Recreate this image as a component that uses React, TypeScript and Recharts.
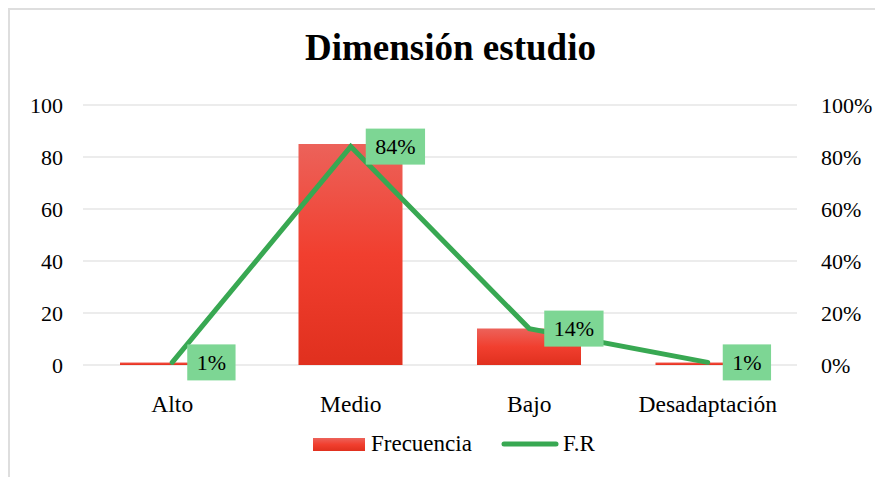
import React from 'react';
import { ComposedChart, Bar, Line, XAxis, YAxis, CartesianGrid, Legend, LabelList } from 'recharts';

const categories = ['Alto', 'Medio', 'Bajo', 'Desadaptación'];
const frecuencia = [1, 85, 14, 1];
const fr = [0.01, 0.84, 0.14, 0.01];
const leftTicks = [0, 20, 40, 60, 80, 100];
const rightTicks = [0, 0.2, 0.4, 0.6, 0.8, 1];

const data = categories.map((c, i) => ({ name: c, frecuencia: frecuencia[i], fr: fr[i] }));

const FONT = '"Liberation Serif", "Times New Roman", serif';
const GREEN = '#38a852';
const LABEL_BG = '#7dd694';

const pct = (v: number) => `${Math.round(v * 100)}%`;

const FrLabel = (props: any) => {
  const { x, y, value } = props;
  const text = pct(value);
  const digits = text.length - 1;
  const w = digits * 11 + 18.3 + 19;
  const h = 36;
  const bx = x + 15;
  const by = y - h / 2;
  return (
    <g>
      <rect x={bx} y={by} width={w} height={h} fill={LABEL_BG} />
      <text
        x={bx + w / 2}
        y={y}
        dy={7.5}
        textAnchor="middle"
        fontFamily={FONT}
        fontSize={22}
        fill="#000"
      >
        {text}
      </text>
    </g>
  );
};

const LegendContent = () => (
  <div
    style={{
      display: 'flex',
      alignItems: 'center',
      fontFamily: FONT,
      fontSize: 23,
      color: '#000',
      lineHeight: '26px',
      whiteSpace: 'nowrap',
    }}
  >
    <svg width={52} height={13} style={{ display: 'block' }}>
      <defs>
        <linearGradient id="legGrad" x1="0" y1="0" x2="0" y2="1">
          <stop offset="0%" stopColor="#ec625a" />
          <stop offset="50%" stopColor="#f13f2f" />
          <stop offset="100%" stopColor="#e0301e" />
        </linearGradient>
      </defs>
      <rect width={52} height={13} fill="url(#legGrad)" />
    </svg>
    <span style={{ marginLeft: 6 }}>Frecuencia</span>
    <svg width={58} height={8} style={{ display: 'block', marginLeft: 29 }}>
      <line x1={3} y1={4} x2={55} y2={4} stroke={GREEN} strokeWidth={5} strokeLinecap="round" />
    </svg>
    <span style={{ marginLeft: 4 }}>F.R</span>
  </div>
);

export default function App() {
  return (
    <div
      style={{
        position: 'relative',
        width: 875,
        height: 469,
        borderLeft: '2px solid #dedede',
        borderTop: '2px solid #dedede',
        boxSizing: 'border-box',
        background: '#fff',
      }}
    >
      <div
        style={{
          position: 'absolute',
          left: -1,
          top: 19,
          width: 883,
          textAlign: 'center',
          fontFamily: FONT,
          fontWeight: 'bold',
          fontSize: 37,
          lineHeight: '37px',
          color: '#000',
          zIndex: 2,
        }}
      >
        Dimensión estudio
      </div>
      <div style={{ position: 'absolute', left: -1, top: -1 }}>
        <ComposedChart
          width={873}
          height={467}
          data={data}
          margin={{ top: 96, right: 15, bottom: 71, left: 14 }}
        >
          <defs>
            <linearGradient id="barGrad" x1="0" y1="0" x2="0" y2="1">
              <stop offset="0%" stopColor="#ec625a" />
              <stop offset="50%" stopColor="#f13f2f" />
              <stop offset="100%" stopColor="#e0301e" />
            </linearGradient>
          </defs>
          <CartesianGrid yAxisId="left" vertical={false} stroke="#d9d9d9" strokeWidth={1.2} />
          <XAxis
            dataKey="name"
            axisLine={false}
            tickLine={false}
            tickSize={0}
            tickMargin={30}
            height={40}
            interval={0}
            tick={{ fontFamily: FONT, fontSize: 23.5, fill: '#000' }}
          />
          <YAxis
            yAxisId="left"
            orientation="left"
            domain={[0, 100]}
            ticks={leftTicks}
            axisLine={false}
            tickLine={false}
            tickSize={0}
            tickMargin={20}
            width={60}
            tick={{ fontFamily: FONT, fontSize: 22, fill: '#000' }}
          />
          <YAxis
            yAxisId="right"
            orientation="right"
            domain={[0, 1]}
            ticks={rightTicks}
            tickFormatter={pct}
            axisLine={false}
            tickLine={false}
            tickSize={0}
            tickMargin={24}
            width={70}
            tick={{ fontFamily: FONT, fontSize: 22, fill: '#000', textAnchor: 'start' }}
          />
          <Legend
            layout="horizontal"
            verticalAlign="middle"
            align="center"
            content={<LegendContent />}
            wrapperStyle={{ left: 304, top: 422, width: 420 }}
          />
          <Bar
            yAxisId="left"
            dataKey="frecuencia"
            name="Frecuencia"
            fill="url(#barGrad)"
            barSize={104}
            isAnimationActive={false}
          />
          <Line
            yAxisId="right"
            dataKey="fr"
            name="F.R"
            type="linear"
            stroke={GREEN}
            strokeWidth={5}
            strokeLinecap="round"
            dot={false}
            activeDot={false}
            isAnimationActive={false}
          >
            <LabelList dataKey="fr" content={<FrLabel />} />
          </Line>
        </ComposedChart>
      </div>
    </div>
  );
}
